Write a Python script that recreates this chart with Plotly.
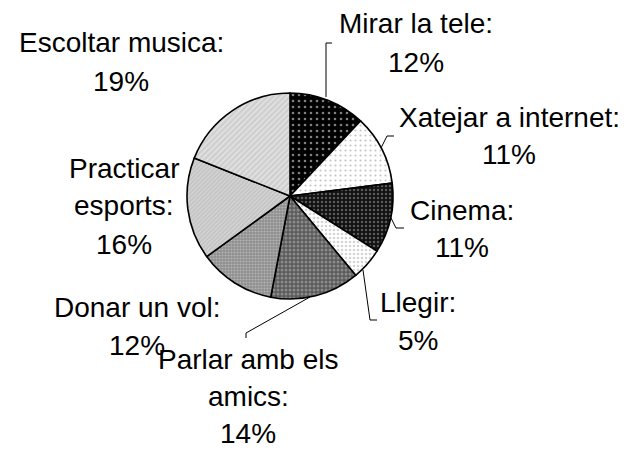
import plotly.graph_objects as go

W, H = 626, 450
# the page body has an 8px margin, so the figure is drawn 8px smaller and
# every pixel position below is measured from the window's top-left corner
OFF = 8
FW, FH = W - OFF, H - OFF

activities = [
    "Mirar la tele", "Xatejar a internet", "Cinema", "Llegir",
    "Parlar amb els amics", "Donar un vol", "Practicar esports", "Escoltar musica",
]
percents = [12, 11, 11, 5, 14, 12, 16, 19]

# how each label wraps in the picture
label_wrap = [
    ["Mirar la tele:"], ["Xatejar a internet:"], ["Cinema:"], ["Llegir:"],
    ["Parlar amb els", "amics:"], ["Donar un vol:"], ["Practicar", "esports:"],
    ["Escoltar musica:"],
]

# fill styles (background, pattern shape, pattern colour, size, solidity)
bg_colors = ["#000000", "#ffffff", "#111111", "#ffffff", "#5a5a5a", "#8e8e8e", "#c4c4c4", "#cfcfcf"]
pat_shapes = [".", ".", ".", ".", ".", ".", "/", "/"]
pat_colors = ["#ffffff", "#888888", "#a0a0a0", "#aaaaaa", "#bbbbbb", "#d8d8d8", "#f4f4f4", "#ffffff"]
pat_sizes = [6, 5, 4, 4, 4, 3, 3, 4]
pat_solid = [0.15, 0.15, 0.3, 0.35, 0.45, 0.4, 0.3, 0.3]

# pie centre / radius in pixels
CX, CY, R = 290, 196, 103

# label anchors (centre x, first line y, line gap) in pixels
label_pos = [(416, 24, 38), (509, 117, 38), (462, 211, 37), (418, 302, 38),
             (248, 359, 37), (137, 307, 38), (124, 168, 38), (121, 43, 39)]

# leader lines in pixels
leaders = [
    [(326, 97), (326, 43), (332, 43)],
    [(381, 148), (387, 136), (394, 136)],
    [(391, 218), (396, 228), (404, 228)],
    [(363, 270), (370, 320), (377, 320)],
    [(310, 297), (246, 333), (246, 338)],
]


def px(x):
    return (x - OFF) / FW


def py(y):
    return 1 - (y - OFF) / FH


fig = go.Figure()
fig.add_trace(
    go.Pie(
        labels=activities,
        values=percents,
        sort=False,
        direction="clockwise",
        rotation=0,
        textinfo="none",
        hoverinfo="label+percent",
        showlegend=False,
        domain=dict(x=[px(CX - R), px(CX + R)], y=[py(CY + R), py(CY - R)]),
        marker=dict(
            colors=bg_colors,
            line=dict(color="black", width=1.6),
            pattern=dict(
                shape=pat_shapes,
                fgcolor=pat_colors,
                size=pat_sizes,
                solidity=pat_solid,
                fillmode="overlay",
            ),
        ),
    )
)

# labels, one annotation per line
for name, wrap, pct, (lx, ly, gap) in zip(activities, label_wrap, percents, label_pos):
    lines = wrap + [f"{pct}%"]
    for i, txt in enumerate(lines):
        fig.add_annotation(
            x=px(lx), y=py(ly + i * gap),
            xref="paper", yref="paper",
            text=txt, showarrow=False,
            xanchor="center", yanchor="middle",
            borderpad=0,
            font=dict(size=28, color="black"),
        )

# leader lines
for pts in leaders:
    path = "M " + " L ".join(f"{px(x)},{py(y)}" for x, y in pts)
    fig.add_shape(
        type="path", path=path, xref="paper", yref="paper",
        line=dict(color="black", width=1),
    )

fig.update_layout(
    width=FW,
    height=FH,
    margin=dict(l=0, r=0, t=0, b=0),
    paper_bgcolor="white",
    plot_bgcolor="white",
    font=dict(family="Liberation Sans, Arial, sans-serif", color="black"),
)

fig.write_html("out.html")
